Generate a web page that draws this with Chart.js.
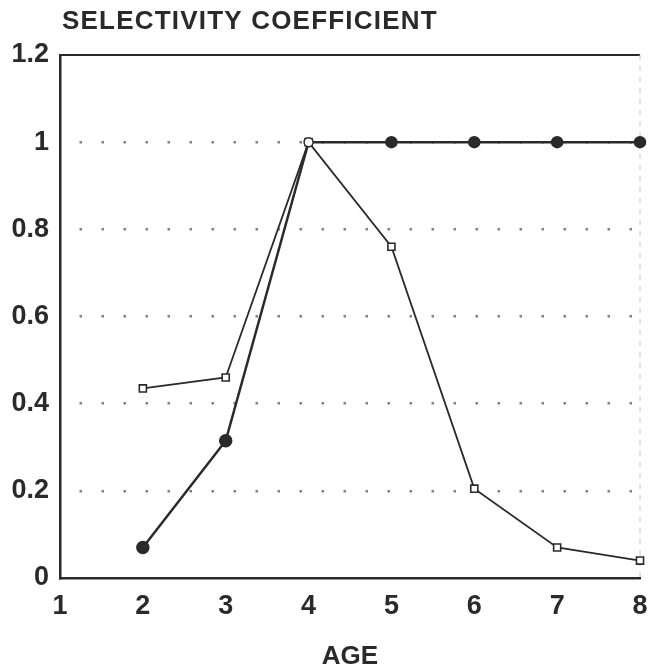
<!DOCTYPE html>
<html lang="en">
  <head>
    <meta charset="UTF-8">
    <title>Selectivity coefficient</title>
    <style>
      body { margin: 0; background: #fff; }
      .chart-box { width: 660px; height: 672px; }
    </style>
  </head>
  <body>
    <div class="chart-box"><canvas id="chart"></canvas></div>
    <script src="https://cdn.jsdelivr.net/npm/chart.js"></script>
    <script>
      // values
      const ages = [2, 3, 4, 5, 6, 7, 8];
      const filledSeries = [0.07, 0.315, 1, 1, 1, 1, 1];
      const openSeries = [0.435, 0.46, 1, 0.76, 0.205, 0.07, 0.04];
      const xTickLabels = ['1', '2', '3', '4', '5', '6', '7', '8'];
      const yTickLabels = ['0', '0.2', '0.4', '0.6', '0.8', '1', '1.2'];
      const chartTitle = 'SELECTIVITY COEFFICIENT';
      const xTitle = 'AGE';

      const ink = '#2a2a2a';
      const font = 'Liberation Sans';

      /* top border, faint right border and the title above the plot */
      const framePlugin = {
        id: 'frame',
        beforeDatasetsDraw(chart) {
          const { ctx, chartArea: a } = chart;
          ctx.save();
          ctx.strokeStyle = ink;
          ctx.lineWidth = 2;
          ctx.beginPath();
          ctx.moveTo(a.left, a.top);
          ctx.lineTo(a.right, a.top);
          ctx.stroke();
          ctx.strokeStyle = '#c4c4c4';
          ctx.lineWidth = 1;
          ctx.setLineDash([5, 6]);
          ctx.beginPath();
          ctx.moveTo(a.right, a.top);
          ctx.lineTo(a.right, a.bottom);
          ctx.stroke();
          ctx.restore();
        },
        afterDraw(chart) {
          const { ctx, chartArea: a } = chart;
          ctx.save();
          ctx.fillStyle = ink;
          ctx.font = `bold 26px "${font}"`;
          ctx.letterSpacing = '1.2px';
          ctx.textBaseline = 'alphabetic';
          ctx.fillText(chartTitle, a.left + 2, 29);
          ctx.restore();
        }
      };

      const toPoints = vals => vals.map((v, i) => ({ x: ages[i], y: v }));

      new Chart(document.getElementById('chart'), {
        type: 'line',
        data: {
          datasets: [{
              label: 'filled',
              data: toPoints(filledSeries),
              borderColor: ink,
              borderWidth: 2.5,
              pointStyle: 'circle',
              pointRadius: [6, 6, 4.5, 5.5, 5.5, 5.5, 5.5],
              pointBorderWidth: 1.5,
              pointBorderColor: ink,
              pointBackgroundColor: ['#2a2a2a', '#2a2a2a', '#ffffff', '#2a2a2a', '#2a2a2a', '#2a2a2a', '#2a2a2a'],
              tension: 0,
              clip: false
            },
            {
              label: 'open',
              data: toPoints(openSeries),
              borderColor: ink,
              borderWidth: 1.8,
              pointStyle: 'rect',
              pointRadius: 5,
              pointBorderWidth: 1.6,
              pointBorderColor: ink,
              pointBackgroundColor: '#ffffff',
              tension: 0,
              clip: false
            }
          ]
        },
        options: {
          responsive: true,
          maintainAspectRatio: false,
          animation: false,
          layout: { padding: { top: 55, right: 20, bottom: 0, left: 0 } },
          plugins: {
            legend: { display: false },
            tooltip: { enabled: false }
          },
          scales: {
            x: {
              type: 'linear',
              min: 1,
              max: 8,
              afterFit: s => { s.height = 94; },
              afterBuildTicks: s => { s.ticks = xTickLabels.map(t => ({ value: Number(t) })); },
              ticks: {
                color: ink,
                padding: 12,
                font: { family: font, size: 27, weight: 'bold' },
                callback: (v, i) => xTickLabels[i]
              },
              grid: { color: 'rgba(0,0,0,0)', drawTicks: false },
              border: { color: ink, width: 2.5 },
              title: {
                display: true,
                text: xTitle,
                color: ink,
                padding: { top: 0, bottom: 0 },
                font: { family: font, size: 26, weight: 'bold' }
              }
            },
            y: {
              min: 0,
              max: 1.2,
              afterFit: s => { s.width = 60; },
              afterBuildTicks: s => { s.ticks = yTickLabels.map(t => ({ value: Number(t) })); },
              ticks: {
                color: ink,
                padding: 11,
                font: { family: font, size: 27, weight: 'bold' },
                callback: (v, i) => yTickLabels[i]
              },
              grid: {
                drawTicks: false,
                lineWidth: 2.5,
                color: c => (c.tick && (c.tick.value === 0 || c.tick.value === 1.2)) ? 'rgba(0,0,0,0)' : '#808080'
              },
              border: { color: ink, width: 2.5, dash: [2.5, 19.5], dashOffset: -18 }
            }
          }
        },
        plugins: [framePlugin]
      });
    </script>
  </body>
</html>
